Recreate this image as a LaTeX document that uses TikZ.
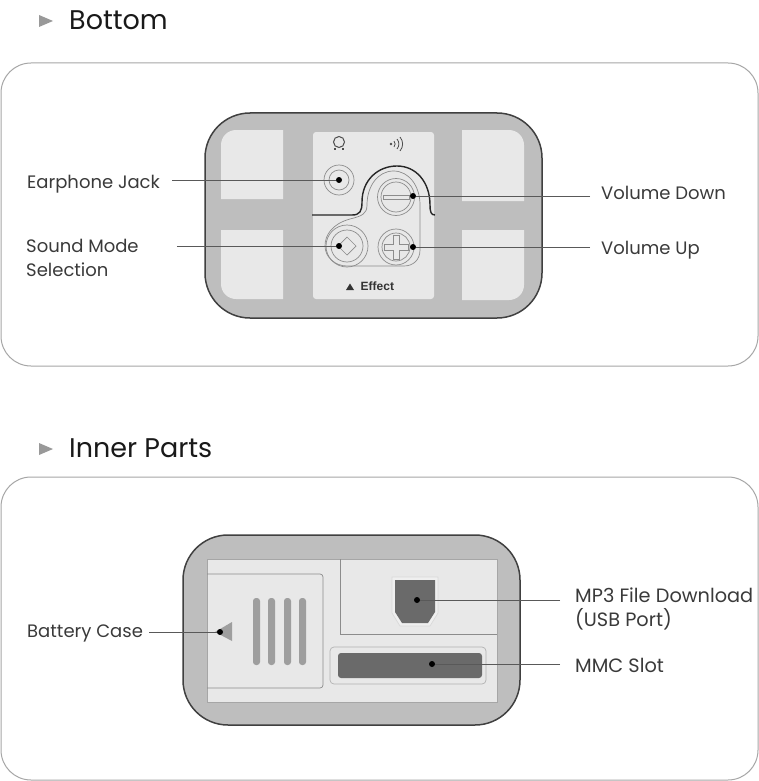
\documentclass[tikz,border=0pt]{standalone}
\usepackage{fontspec}
\setmainfont{Poppins}
\newfontfamily\effectfont{Liberation Sans}
\usetikzlibrary{calc}
\definecolor{bodygray}{HTML}{BEBEBE}
\definecolor{panelgray}{HTML}{E8E8E8}
\definecolor{linegray}{HTML}{8C8C8C}
\definecolor{slotgray}{HTML}{6A6A6A}
\definecolor{bargray}{HTML}{9E9E9E}
\definecolor{inkgray}{HTML}{3A3A3A}
\tikzset{
  x=1pt,y=-1pt,
  frame/.style={draw=black!35,line width=1pt,fill=white},
  device/.style={draw=black!75,line width=1.5pt,fill=bodygray},
  panel/.style={fill=panelgray,draw=none},
  thinline/.style={draw=linegray,line width=.7pt},
  ring/.style={draw=linegray,line width=.7pt,fill=none},
  lead/.style={draw=black!65,line width=.8pt},
  pin/.style={circle,fill=black,inner sep=0pt,minimum size=6pt},
  lab/.style={font=\fontsize{18}{21}\selectfont,text=inkgray,anchor=west,inner sep=0pt,align=left},
  labwide/.style={lab,font=\fontsize{19.3}{21}\selectfont},
  head/.style={font=\fontsize{27}{31}\selectfont,text=black!90,anchor=base west,inner sep=0pt},
  bullet/.style={fill=black!40,draw=none},
}
\begin{document}
\begin{tikzpicture}
\useasboundingbox (0,0) rectangle (759,781);
\fill[white] (0,0) rectangle (759,781);

% headings
\fill[bullet] (39,15) -- (53,21) -- (39,27) -- cycle;
\node[head] (h1) at (69,30) {Bottom};
\fill[bullet] (39,443) -- (53,449) -- (39,455) -- cycle;
\node[head] (h2) at (69,457) {Inner Parts};

% frames
\draw[frame,rounded corners=30pt] (1,63) rectangle (758,366);
\draw[frame,rounded corners=30pt] (1,477) rectangle (758,780);

% ---- bottom device
\draw[device,rounded corners=45pt] (205,113) rectangle (542,318);
\path[panel] (221,199) [rounded corners=15pt] -- (221,130) [sharp corners] -- (283,130) -- (283,199) -- cycle;
\path[panel] (221,230) [rounded corners=15pt] -- (221,299) [sharp corners] -- (283,299) -- (283,230) -- cycle;
\path[panel] (524,201) [rounded corners=15pt] -- (524,130) [sharp corners] -- (462,130) -- (462,201) -- cycle;
\path[panel] (524,230) [rounded corners=15pt] -- (524,300) [sharp corners] -- (462,300) -- (462,230) -- cycle;
\path[panel,rounded corners=3pt] (313,132) rectangle (434,299);

% contour round the buttons
\draw[thinline] (367,205) .. controls (367,186) and (378,171) .. (393.5,171)
   .. controls (409,171) and (420,186) .. (420,205)
   -- (420,250) .. controls (420,260) and (413,266) .. (404,266)
   -- (347,266) .. controls (335,266) and (325,257) .. (325,246)
   .. controls (325,235) and (332,224) .. (350,219)
   .. controls (362,216) and (367,214) .. (367,205) -- cycle;

% selector outline
\draw[black!85,line width=1.4pt] (312,215) -- (352,215) .. controls (360,215) and (362,211) .. (362,202)
   .. controls (362,180) and (378,166) .. (397,166)
   .. controls (416,166) and (430,182) .. (430,205)
   .. controls (430,212) and (431,215) .. (435,215);

% icons
\draw[black!70,line width=1pt] (339,142) circle[radius=5.5];
\draw[black!70,line width=1.5pt] (334,149) -- (336,149) (342,149) -- (344,149);
\fill[black!70] (391,144) circle[radius=1.3];
\draw[black!70,line width=.8pt] (394,141) to[bend left=40] (394,147);
\draw[black!70,line width=.8pt] (397,139) to[bend left=40] (397,149);
\draw[black!70,line width=.8pt] (400,137) to[bend left=40] (400,151);

% buttons
\draw[ring] (339,180) circle[radius=15];
\draw[ring] (339,180) circle[radius=10];
\draw[ring] (396,197) circle[radius=18.5];
\draw[ring] (396,197) circle[radius=15];
\draw[ring] (383,195) -- (409,195) -- (409,199) -- (383,199) -- cycle;
\draw[ring] (347,246) circle[radius=21];
\draw[ring] (347,246) circle[radius=16];
\draw[ring] (347,237) -- (356,246) -- (347,255) -- (338,246) -- cycle;
\draw[ring] (396,247) circle[radius=18];
\draw[ring] (396,247) circle[radius=14];
\draw[ring] (393,235) -- (399,235) -- (399,244) -- (408,244) -- (408,250) -- (399,250) -- (399,259) -- (393,259) -- (393,250) -- (384,250) -- (384,244) -- (393,244) -- cycle;

\fill[black!80] (346,290) -- (350,283.5) -- (354,290) -- cycle;
\node[font=\effectfont\bfseries\fontsize{12}{14}\selectfont,text=black!80,inner sep=0pt,anchor=west] (effect) at (360.5,286.5) {Effect};

% pins bottom
\node[pin] (pEar) at (339,180) {};
\node[pin] (pMode) at (339,246) {};
\node[pin] (pDown) at (413,196) {};
\node[pin] (pUp) at (413,247) {};

% labels bottom
\node[lab] (lEar) at (27,184) {Earphone Jack};
\node[lab] (lMode) at (26,258) {Sound Mode\\[3pt]Selection};
\node[lab] (lDown) at (601,193) {Volume Down};
\node[lab] (lUp) at (601,250) {Volume Up};

\draw[lead,shorten <=12pt] (lEar.east |- pEar) -- (pEar);
\draw[lead,shorten <=38pt] (lMode.east |- pMode) -- (pMode);
\draw[lead,shorten <=11pt] (lDown.west |- pDown) -- (pDown);
\draw[lead,shorten <=11pt] (lUp.west |- pUp) -- (pUp);

% ---- inner device
\draw[device,rounded corners=45pt] (183,535) rectangle (520,725);
\path[panel] (207,559) rectangle (497,702);
\draw[draw=black!35,line width=.7pt] (207,559) -- (497,559) -- (497,702) -- (207,702) -- cycle;
\draw[thinline,rounded corners=3pt] (207,574) -- (323,574) -- (323,688) -- (207,688);
\draw[thinline] (340,559) -- (340,634) -- (497,634);
\fill[bargray,rounded corners=3pt] (253,598) rectangle (260,665);
\fill[bargray,rounded corners=3pt] (268,598) rectangle (275,665);
\fill[bargray,rounded corners=3pt] (284,598) rectangle (291,665);
\fill[bargray,rounded corners=3pt] (299,598) rectangle (306,665);
\fill[bargray] (232,622) -- (232,641) -- (215,632) -- cycle;
\draw[draw=black!15,line width=.7pt,fill=panelgray!70] (392,577) -- (438,577) -- (438,613) -- (430,626) -- (400,626) -- (392,613) -- cycle;
\fill[slotgray] (395,580) -- (435,580) -- (435,612) -- (428,623) -- (402,623) -- (395,612) -- cycle;
\draw[draw=black!30,line width=.7pt,rounded corners=4pt] (330,647) rectangle (486,684);
\fill[slotgray,rounded corners=3pt] (338,653) rectangle (482,678);

\node[pin] (pBat) at (220,632) {};
\node[pin] (pUsb) at (417,600) {};
\node[pin] (pMmc) at (432,664) {};

\node[lab] (lBat) at (27,633) {Battery Case};
\node[labwide] (lUsb) at (575,609) {MP3 File Download\\[3pt](USB Port)};
\node[labwide] (lMmc) at (575,665) {MMC Slot};

\draw[lead,shorten <=6pt] (lBat.east |- pBat) -- (pBat);
\draw[lead,shorten <=15pt] (lUsb.west |- pUsb) -- (pUsb);
\draw[lead,shorten <=15pt] (lMmc.west |- pMmc) -- (pMmc);
\end{tikzpicture}
\end{document}
